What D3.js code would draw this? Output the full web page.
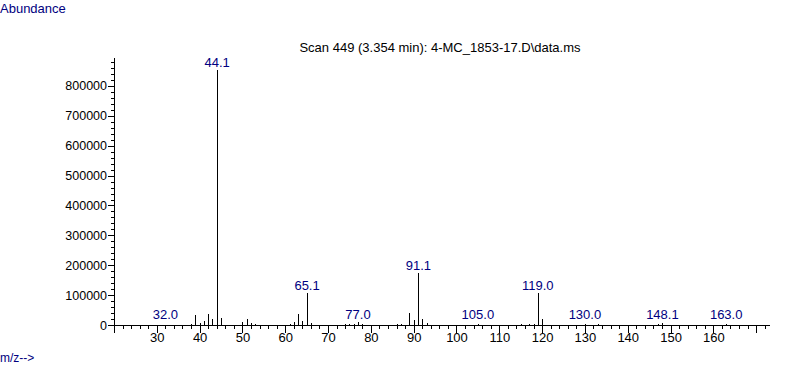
<!DOCTYPE html>
<html>
<head>
<meta charset="utf-8">
<script src="https://cdn.jsdelivr.net/npm/d3@7"></script>
<style>
  body { margin: 0; background: #fff; }
  svg text { font-family: "Liberation Sans", Arial, sans-serif; }
</style>
</head>
<body>
<div id="chart"></div>
<script>
// mass spectrum, scan 449
let mz = [32.0, 38, 39, 40, 41, 42, 43, 44.1, 45, 50, 51, 52, 53,
          61, 62, 63, 64, 65.1, 66, 74, 75, 76, 77.0, 78, 86, 87,
          89, 90, 91.1, 92, 93, 105.0, 115, 117, 118, 119.0, 120,
          130.0, 133, 147, 148.1, 163.0];
let abundance = [1500, 3000, 33000, 6000, 13000, 37000, 20000, 853000, 23000, 10000, 20000, 7000, 3000,
                 4000, 10000, 37000, 12000, 106000, 7000, 3000, 3000, 5000, 11000, 3000, 3000, 4000,
                 41000, 17000, 173000, 20000, 7000, 3000, 3000, 3000, 4000, 108000, 20000,
                 2000, 3000, 3000, 6000, 2000];
let labeled = [32.0, 44.1, 65.1, 77.0, 91.1, 105.0, 119.0, 130.0, 148.1, 163.0];
let yTicks = [0, 100000, 200000, 300000, 400000, 500000, 600000, 700000, 800000];
let xTickLabels = [30, 40, 50, 60, 70, 80, 90, 100, 110, 120, 130, 140, 150, 160];

const title = "Scan 449 (3.354 min): 4-MC_1853-17.D\\data.ms";
const navy = "#000080";

let width = 787, height = 367;
let margin = {top: 57, right: 18, bottom: 42, left: 114};

let svg = d3.select("#chart").append("svg")
    .attr("width", width)
    .attr("height", height);

let x = d3.scaleLinear()
    .domain([20, 173])
    .range([margin.left, width - margin.right]);
let y = d3.scaleLinear()
    .domain([0, 897000])
    .range([height - margin.bottom, margin.top]);

let base = y(0);

// minor y ticks
svg.append("g")
    .attr("transform", "translate(" + margin.left + ",0)")
    .call(d3.axisLeft(y).tickValues(d3.range(0, 897000, 20000)).tickSize(3).tickFormat(""))
    .call(g => g.select(".domain").remove());

// y axis
svg.append("g")
    .attr("transform", "translate(" + margin.left + ",0)")
    .call(d3.axisLeft(y).tickValues(yTicks).tickSize(6).tickPadding(1).tickSizeOuter(0).tickFormat(d3.format("d")))
    .call(g => g.selectAll("text").attr("font-size", 12.5).attr("fill", "#000"));

// minor x ticks
svg.append("g")
    .attr("transform", "translate(0," + base + ")")
    .call(d3.axisBottom(x).tickValues(d3.range(20, 173, 2)).tickSize(4).tickFormat(""))
    .call(g => g.select(".domain").remove());

// x axis
svg.append("g")
    .attr("transform", "translate(0," + base + ")")
    .call(d3.axisBottom(x).tickValues(d3.range(20, 173, 10)).tickSize(8).tickPadding(0).tickSizeOuter(0)
      .tickFormat(d => xTickLabels.includes(d) ? d : ""))
    .call(g => g.selectAll("text").attr("font-size", 13).attr("fill", "#000"));

svg.selectAll("line, path").attr("shape-rendering", "crispEdges");

// peaks
svg.append("g").selectAll("line")
    .data(mz)
  .enter().append("line")
    .attr("x1", d => Math.round(x(d)) + 0.5)
    .attr("x2", d => Math.round(x(d)) + 0.5)
    .attr("y1", base)
    .attr("y2", (d, i) => y(abundance[i]))
    .attr("stroke", "#000")
    .attr("stroke-width", 1)
    .attr("shape-rendering", "crispEdges");

// peak labels
svg.append("g").selectAll("text")
    .data(labeled)
  .enter().append("text")
    .attr("x", d => x(d))
    .attr("y", d => Math.min(y(abundance[mz.indexOf(d)]), base - 3) - 3)
    .attr("text-anchor", "middle")
    .attr("font-size", 13)
    .attr("fill", navy)
    .text(d => d.toFixed(1));

svg.append("text")
    .attr("x", 440)
    .attr("y", 52)
    .attr("text-anchor", "middle")
    .attr("font-size", 13)
    .attr("fill", "#000")
    .text(title);

svg.append("text")
    .attr("x", 0)
    .attr("y", 13)
    .attr("font-size", 13)
    .attr("fill", navy)
    .text("Abundance");

svg.append("text")
    .attr("x", 0)
    .attr("y", 362)
    .attr("font-size", 12)
    .attr("fill", navy)
    .text("m/z-->");
</script>
</body>
</html>
